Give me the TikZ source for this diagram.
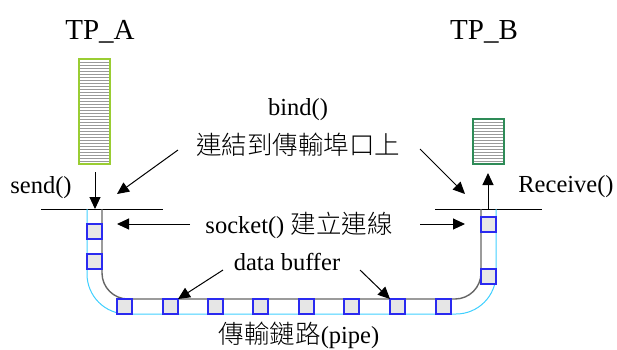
\documentclass[tikz,border=0pt]{standalone}
\usepackage{fontspec}
\setmainfont{Liberation Serif}
\newfontfamily\cjk{Noto Sans CJK TC}[UprightFont=* Light]
\usetikzlibrary{arrows.meta}
\definecolor{pipecyan}{HTML}{40D0FF}
\definecolor{pipegray}{HTML}{666666}
\definecolor{cellblue}{HTML}{2A2AF0}
\definecolor{cellfill}{HTML}{E6E6E6}
\definecolor{stackA}{HTML}{9ACD32}
\definecolor{stackB}{HTML}{2E8B57}
\tikzset{
  lbl/.style={inner sep=0pt, font=\fontsize{24.5}{28}\selectfont},
  title/.style={inner sep=0pt, font=\fontsize{29}{33}\selectfont},
  arr/.style={line width=1pt, -{Triangle[length=12pt,width=11pt]}},
  cell/.style={draw=cellblue, fill=cellfill, line width=1.1pt},
  stackline/.style={draw=gray!80, line width=0.8pt},
  rail/.style={line width=1pt}
}
% a process stack: x0 y0 x1 y1 border colour
\newcommand{\stackbox}[5]{%
  \pgfmathtruncatemacro{\nl}{(#4-#2)/3}
  \foreach \k in {1,...,\nl}{
    \draw[stackline] (#1,{#2+3*\k}) -- (#3,{#2+3*\k});
  }
  \draw[draw=#5, line width=1.2pt] (#1,#2) rectangle (#3,#4);
}
\begin{document}
\begin{tikzpicture}[x=1pt,y=-1pt]
\useasboundingbox (0,0) rectangle (617,349);

% titles
\node[title] (tpa) at (100,32) {TP\_A};
\node[title] (tpb) at (484,32) {TP\_B};

% process stacks
\stackbox{79}{59}{110}{164}{stackA}
\stackbox{473}{119}{504}{164}{stackB}

% socket end lines
\draw[rail] (41,209) -- (163,209);
\draw[rail] (435,209) -- (542,209);

% the pipe
\draw[pipecyan, line width=1pt, rounded corners=40pt]
  (87,209) -- (87,314) -- (496,314) -- (496,209);
\draw[pipegray, line width=1.4pt, rounded corners=26pt]
  (102,209) -- (102,299) -- (481,299) -- (481,209);

% data cells
\foreach \y in {224,254}{ \draw[cell] (87,\y) rectangle ++(15,15); }
\foreach \y in {217,269}{ \draw[cell] (481,\y) rectangle ++(15,15); }
\foreach \x in {117,163,208,253,299,344,390,436}{ \draw[cell] (\x,299) rectangle ++(15,15); }

% labels
\node[lbl] (send) at (41,188) {send()};
\node[lbl] (recv) at (566,187) {Receive()};
\node[lbl] (bind) at (298,110) {bind()};
\node[lbl, font=\fontsize{25.5}{28}\selectfont\cjk] (bindzh) at (298,145) {連結到傳輸埠口上};
\node[lbl] (sock) at (299,225) {socket() {\fontsize{25.5}{28}\selectfont\cjk 建立連線}};
\node[lbl] (buf) at (287,262) {data buffer};
\node[lbl] (pipe) at (299,335) {{\fontsize{25.5}{28}\selectfont\cjk 傳輸鏈路}(pipe)};

% connector ends
\coordinate (sendS) at (95,172);  \coordinate (sendE) at (95,209);
\coordinate (recvS) at (488,209); \coordinate (recvE) at (488,173);
\coordinate (bindLS) at (178,150); \coordinate (bindLE) at (117,194);
\coordinate (bindRS) at (420,149); \coordinate (bindRE) at (465,194);
\coordinate (sockLS) at (190,224); \coordinate (sockLE) at (117,224);
\coordinate (sockRS) at (420,224); \coordinate (sockRE) at (465,224);
\coordinate (bufLS) at (223,270); \coordinate (bufLE) at (178,299);
\coordinate (bufRS) at (360,270); \coordinate (bufRE) at (390,299);

\draw[arr] (sendS) -- (sendE);
\draw[arr] (recvS) -- (recvE);
\draw[arr] (bindLS) -- (bindLE);
\draw[arr] (bindRS) -- (bindRE);
\draw[arr] (sockLS) -- (sockLE);
\draw[arr] (sockRS) -- (sockRE);
\draw[arr] (bufLS) -- (bufLE);
\draw[arr] (bufRS) -- (bufRE);
\end{tikzpicture}
\end{document}
